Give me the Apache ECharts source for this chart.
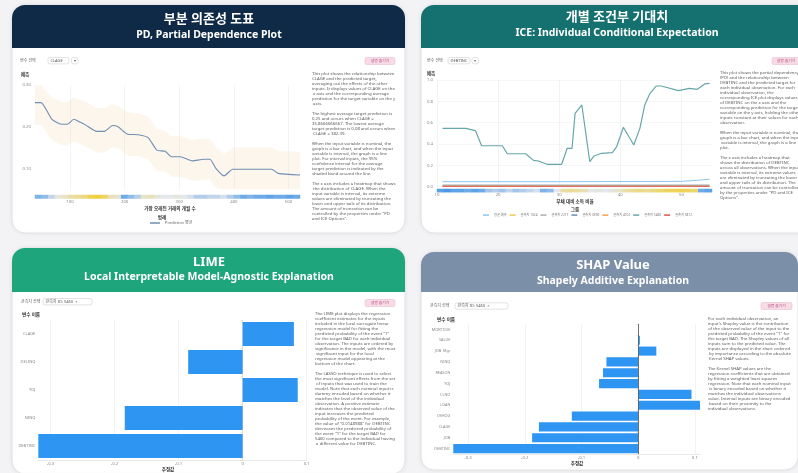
<!DOCTYPE html>
<html>
<head>
<meta charset="utf-8">
<script src="https://cdn.jsdelivr.net/npm/echarts@6.0.0/dist/echarts.min.js"></script>
<style>
html, body { margin: 0; padding: 0; background: #f3f3f5; }
#main { width: 798px; height: 473px; }
</style>
</head>
<body>
<div id="main"></div>
<script>
// ---- PD: 부분 의존성 도표 (CLAGE) ----
const pdX = [36, 47, 67, 86, 95, 107, 117, 129, 149, 163, 178, 188, 206, 225, 243, 259, 274, 286, 302, 324, 345, 356, 367, 382, 398, 419, 469, 481, 521]
const pdMean = [0.258, 0.258, 0.218, 0.206, 0.206, 0.218, 0.212, 0.204, 0.189, 0.189, 0.203, 0.200, 0.182, 0.181, 0.174, 0.144, 0.141, 0.128, 0.128, 0.118, 0.122, 0.122, 0.100, 0.082, 0.098, 0.098, 0.098, 0.088, 0.084]
const pdUpper = [0.300, 0.300, 0.270, 0.260, 0.260, 0.270, 0.265, 0.260, 0.245, 0.245, 0.255, 0.250, 0.235, 0.232, 0.225, 0.195, 0.190, 0.178, 0.178, 0.168, 0.172, 0.172, 0.152, 0.135, 0.150, 0.150, 0.150, 0.142, 0.140]
const pdLower = [0.205, 0.205, 0.168, 0.155, 0.155, 0.165, 0.160, 0.152, 0.138, 0.138, 0.150, 0.148, 0.130, 0.130, 0.122, 0.094, 0.092, 0.080, 0.080, 0.070, 0.073, 0.073, 0.052, 0.050, 0.050, 0.050, 0.050, 0.050, 0.050]
const pdTicks = [100, 200, 300, 400, 500]
const pdRug = [0.8, 0.75, 0.6, 0.45, 0.4, 0.3, 0.25, 0.2, 0.05, 0.0, 0.1, 0.35, 0.4, 0.85, 0.75, 0.65, 0.4, 0.35, 0.45, 0.5, 0.5, 0.45, 0.5, 0.55, 0.65, 0.65, 0.6, 0.6, 0.55, 0.65, 0.75, 0.85, 0.8, 0.85, 0.85, 0.9, 0.85, 0.85, 0.9, 0.85]

// ---- ICE: 개별 조건부 기대치 (DEBTINC) ----
const iceX = [10.9, 14.7, 16.3, 17.3, 20.7, 21.5, 24.5, 25.8, 26.6, 28.0, 30.4, 31.3, 32.1, 32.6, 33.7, 35.0, 35.7, 36.9, 38.7, 39.4, 40.5, 42.2, 43.2, 44.0, 44.8, 45.9, 46.7, 49.5, 51.3, 52.6, 53.8, 54.6]
const iceTeal = [0.547, 0.547, 0.525, 0.384, 0.384, 0.309, 0.309, 0.247, 0.241, 0.210, 0.210, 0.360, 0.360, 0.688, 0.766, 0.234, 0.288, 0.313, 0.319, 0.375, 0.557, 0.391, 0.547, 0.766, 0.869, 0.944, 0.944, 0.900, 0.922, 0.913, 0.963, 0.969]
const iceMeanX = [10.9, 30.0, 50.0, 52.6, 54.6]
const iceMean = [0.047, 0.047, 0.050, 0.060, 0.070]
const iceFlatX = [10.9, 54.6]
const iceYellow = [0.012, 0.012]
const iceGray = [0.009, 0.009]
const iceSlate = [0.015, 0.015]
const iceOrange = [0.006, 0.006]
const iceRed = [0.003, 0.003]
const iceNames = ['평균 예측', '관측치 1024', '관측치 2217', '관측치 3390', '관측치 4102', '관측치 5460', '관측치 5812']
const iceTicks = [10, 20, 30, 40, 50]
const iceRug = [0.9, 0.95, 0.9, 0.9, 0.85, 0.9, 0.85, 0.7, 0.65, 0.7, 0.6, 0.7, 0.65, 0.6, 0.55, 0.8, 0.75, 0.5, 0.3, 0.25, 0.3, 0.35, 0.5, 0.45, 0.5, 0.45, 0.4, 0.3, 0.25, 0.2, 0.25, 0.2, 0.15, 0.1, 0.1, 0.05, 0.1, 0.15, 0.85, 0.9]

// ---- LIME ----
const limeVars = ['CLAGE', 'DELINQ', 'YOJ', 'NINQ', 'DEBTINC']
const limeValues = [0.080, -0.085, 0.086, -0.184, -0.319]
const limeTicks = [-0.3, -0.2, -0.1, 0, 0.1]

// ---- SHAP ----
const shapVars = ['MORTDUE', 'VALUE', 'JOB_Mgr', 'NINQ', 'REASON', 'YOJ', 'CLNO', 'LOAN', 'DEROG', 'CLAGE', 'JOB', 'DEBTINC']
const shapValues = [0, 0.003, 0.032, -0.056, -0.062, -0.069, 0.094, 0.109, -0.117, -0.175, -0.187, -0.326]
const shapTicks = [-0.3, -0.2, -0.1, 0, 0.1]

const FONT = "'Noto Sans', 'Noto Sans CJK KR', sans-serif"
const BAR_BLUE = '#2f95f2'

// 설명 문단
const pdText = [
  'This plot shows the relationship between CLAGE and the predicted target, averaging out the effects of the other inputs. It displays values of CLAGE on the x axis and the corresponding average prediction for the target variable on the y axis.',
  'The highest average target prediction is 0.25 and occurs when CLAGE = 35.8666666667. The lowest average target prediction is 0.08 and occurs when CLAGE = 382.39.',
  'When the input variable is nominal, the graph is a bar chart, and when the input variable is interval, the graph is a line plot. For interval inputs, the 95% confidence interval for the average target prediction is indicated by the shaded band around the line.',
  'The x axis includes a heatmap that shows the distribution of CLAGE. When the input variable is interval, its extreme values are eliminated by truncating the lower and upper tails of its distribution. The amount of truncation can be controlled by the properties under "PD and ICE Options".'
]
const iceText = [
  'This plot shows the partial dependency (PD) and the relationship between DEBTINC and the predicted target for each individual observation. For each individual observation, the corresponding ICE plot displays values of DEBTINC on the x axis and the corresponding prediction for the target variable on the y axis, holding the other inputs constant at their values for each observation.',
  'When the input variable is nominal, the graph is a bar chart, and when the input variable is interval, the graph is a line plot.',
  'The x axis includes a heatmap that shows the distribution of DEBTINC across all observations. When the input variable is interval, its extreme values are eliminated by truncating the lower and upper tails of its distribution. The amount of truncation can be controlled by the properties under "PD and ICE Options".'
]
const limeText = [
  'The LIME plot displays the regression coefficient estimates for the inputs included in the local surrogate linear regression model for fitting the predicted probability of the event "1" for the target BAD for each individual observation. The inputs are ordered by significance in the model, with the most significant input for the local regression model appearing at the bottom of the chart.',
  'The LASSO technique is used to select the most significant effects from the set of inputs that was used to train the model. Note that each nominal input is dummy encoded based on whether it matches the level of the individual observation. A positive estimate indicates that the observed value of the input increases the predicted probability of the event. For example, the value of "0.0148988" for DEBTINC decreases the predicted probability of the event "1" for the target BAD for 5460 compared to the individual having a different value for DEBTINC.'
]
const shapText = [
  'For each individual observation, an input\'s Shapley value is the contribution of the observed value of the input to the predicted probability of the event "1" for the target BAD. The Shapley values of all inputs sum to the predicted value. The inputs are displayed in the chart ordered by importance according to the absolute Kernel SHAP values.',
  'The Kernel SHAP values are the regression coefficients that are obtained by fitting a weighted least squares regression. Note that each nominal input is binary encoded based on whether it matches the individual observations value. Interval inputs are binary encoded based on their proximity to the individual observations.'
]

// 카드 (흰 배경 + 색 헤더 + 두 줄 제목)
function card (x, y, w, h, headH, color, cx, t1, t2, t1y, t2y) {
  return [
    { type: 'rect', z: -10, shape: { x: x, y: y, width: w, height: h, r: 13 },
      style: { fill: '#fff', stroke: '#e2e2e6', lineWidth: 1, shadowBlur: 5, shadowColor: 'rgba(0,0,0,0.06)' } },
    { type: 'rect', z: -9, shape: { x: x, y: y, width: w, height: headH, r: [13, 13, 0, 0] }, style: { fill: color } },
    { type: 'text', z: 5, x: cx, y: t1y, style: { text: t1, fill: '#fff', fontSize: 13, fontWeight: 'bold', fontFamily: FONT, align: 'center', verticalAlign: 'middle' } },
    { type: 'text', z: 5, x: cx, y: t2y, style: { text: t2, fill: '#fff', fontSize: 10.5, fontWeight: 'bold', fontFamily: FONT, align: 'center', verticalAlign: 'middle' } }
  ]
}

// 선택 상자
function dropdown (x, y, label, boxX, boxW, value, btnX) {
  const els = [
    { type: 'text', x: x, y: y, style: { text: label, fill: '#666', fontSize: 4, fontFamily: FONT, verticalAlign: 'middle' } },
    { type: 'rect', shape: { x: boxX, y: y - 3.2, width: boxW, height: 6.4, r: 2 }, style: { fill: '#fff', stroke: '#cfcfd4', lineWidth: 0.6 } },
    { type: 'text', x: boxX + 2.5, y: y, style: { text: value, fill: '#555', fontSize: 4, fontFamily: FONT, verticalAlign: 'middle' } }
  ]
  if (btnX) {
    els.push({ type: 'rect', shape: { x: btnX, y: y - 3.2, width: 6.5, height: 6.4, r: 2 }, style: { fill: '#fff', stroke: '#cfcfd4', lineWidth: 0.6 } })
    els.push({ type: 'text', x: btnX + 3.25, y: y, style: { text: '▾', fill: '#666', fontSize: 4, fontFamily: FONT, align: 'center', verticalAlign: 'middle' } })
  }
  return els
}

function badge (x, y, w) {
  return [
    { type: 'rect', shape: { x: x, y: y, width: w, height: 7, r: 1.5 }, style: { fill: '#f7dbe6', stroke: '#e8b5ca', lineWidth: 0.5 } },
    { type: 'text', x: x + w / 2, y: y + 3.5, style: { text: '설명 숨기기', fill: '#b24a74', fontSize: 3.8, fontFamily: FONT, align: 'center', verticalAlign: 'middle' } }
  ]
}

// 문단들은 한 덩어리로 (빈 줄로 구분)
function paragraphs (x, top, width, texts) {
  return {
    type: 'text', x: x, y: top,
    style: { text: texts.join('\n\n'), width: width, overflow: 'break', fill: '#5a5a5a', fontSize: 4.3, lineHeight: 5.0, fontFamily: FONT, verticalAlign: 'top' }
  }
}

function label (x, y, text, align, bold) {
  return { type: 'text', x: x, y: y, style: { text: text, fill: '#333', fontSize: 4.6, fontWeight: bold ? 'bold' : 'normal', fontFamily: FONT, align: align || 'center', verticalAlign: 'middle' } }
}

const graphics = [].concat(
  card(12, 5, 393, 228, 43, '#0e2a47', 209, '부분 의존성 도표', 'PD, Partial Dependence Plot', 19.5, 35),
  card(421, 5, 393, 228, 43, '#15716f', 617, '개별 조건부 기대치', 'ICE: Individual Conditional Expectation', 17.5, 33.5),
  card(12, 248, 393, 226, 44, '#1fa57c', 209, 'LIME', 'Local Interpretable Model-Agnostic Explanation', 262, 277.5),
  card(421, 252, 377, 218, 40, '#7b8fa8', 613, 'SHAP Value', 'Shapely Additive Explanation', 265, 281),
  dropdown(20, 60.7, '변수 선택', 48, 21, 'CLAGE', 71.5),
  dropdown(427, 60.7, '변수 선택', 448, 22, 'DEBTINC', 472),
  dropdown(21, 301.7, '관측치 선택', 43, 49, '관측치 ID: 5460  ×'),
  dropdown(430, 306, '관측치 선택', 455, 53, '관측치 ID: 5460  ×'),
  badge(365, 57.5, 30),
  badge(772, 57.5, 28),
  badge(365, 299.5, 30),
  badge(761, 302.5, 31),
  [
    paragraphs(312, 71.7, 84, pdText),
    paragraphs(720, 70.7, 82, iceText),
    paragraphs(315, 311.7, 81, limeText),
    paragraphs(708, 316, 83, shapText),
    label(25, 75, '예측', 'center', true),
    label(170, 208.3, '가장 오래된 거래의 개월 수', 'center', true),
    label(162, 217.3, '범례', 'center', true),
    label(431, 74, '예측', 'center', true),
    label(575, 201.7, '부채 대비 소득 비율', 'center', true),
    label(575, 209.7, '그룹', 'center', true),
    label(22, 315, '변수 이름', 'left', true),
    label(437, 319.3, '변수 이름', 'left', true),
    label(168, 469.5, '추정값', 'center', true),
    label(577, 464, '추정값', 'center', true)
  ]
)

const tickLabel = { fontSize: 4.3, color: '#8a8a8a', fontFamily: FONT }
const faint = { show: true, lineStyle: { color: '#eef0f3', width: 0.8 } }

const chart = echarts.init(document.getElementById('main'))
chart.setOption({
  backgroundColor: '#f3f3f5',
  animation: false,
  graphic: { elements: graphics },
  legend: [
    { data: ['Prediction 평균'], left: 150, top: 221, padding: 0, itemWidth: 10, itemHeight: 1.5, icon: 'rect', selectedMode: false,
      textStyle: { fontSize: 4, color: '#666', fontFamily: FONT } },
    { data: iceNames, left: 483, top: 213.5, padding: 0, itemWidth: 6, itemHeight: 1.5, itemGap: 3, icon: 'rect', selectedMode: false,
      textStyle: { fontSize: 3.2, color: '#777', fontFamily: FONT } }
  ],
  grid: [
    { left: 35, top: 85.2, width: 265, height: 104, outerBoundsMode: 'none' },
    { left: 35, top: 195, width: 265, height: 3.5, outerBoundsMode: 'none' },
    { left: 437, top: 80, width: 275, height: 106.7, outerBoundsMode: 'none' },
    { left: 437, top: 189, width: 275, height: 3.2, outerBoundsMode: 'none' },
    { left: 38.3, top: 320, width: 268.4, height: 140, outerBoundsMode: 'none' },
    { left: 453.3, top: 324, width: 246.7, height: 130, outerBoundsMode: 'none' }
  ],
  xAxis: [
    { gridIndex: 0, type: 'value', min: 'dataMin', max: 'dataMax', axisLine: { show: false },
      axisTick: { show: false, customValues: pdTicks }, splitLine: faint,
      axisLabel: Object.assign({ customValues: pdTicks, margin: 10 }, tickLabel) },
    { gridIndex: 1, type: 'category', data: pdRug.map((v, i) => i), show: false },
    { gridIndex: 2, type: 'value', min: 10, max: 55, axisLine: { show: false },
      axisTick: { show: false, customValues: iceTicks }, splitLine: faint,
      axisLabel: Object.assign({ customValues: iceTicks, margin: 5.5 }, tickLabel) },
    { gridIndex: 3, type: 'category', data: iceRug.map((v, i) => i), show: false },
    { gridIndex: 4, type: 'value', min: 'dataMin', max: 0.1, axisLine: { show: true, lineStyle: { color: '#dcdcdc', width: 0.6 } },
      axisTick: { show: false, customValues: limeTicks }, splitLine: faint,
      axisLabel: Object.assign({ customValues: limeTicks, margin: 1.5 }, tickLabel) },
    { gridIndex: 5, type: 'value', min: 'dataMin', max: 'dataMax', axisLine: { show: true, lineStyle: { color: '#dcdcdc', width: 0.6 } },
      axisTick: { show: false, customValues: shapTicks }, splitLine: faint,
      axisLabel: Object.assign({ customValues: shapTicks, margin: 1.5 }, tickLabel) }
  ],
  yAxis: [
    { gridIndex: 0, type: 'value', min: 0.05, max: 0.3, interval: 0.05, axisLine: { show: false }, axisTick: { show: false },
      splitLine: { show: false },
      axisLabel: Object.assign({ margin: 4, formatter: v => (Math.round(v * 100) % 10 === 0 ? v.toFixed(2) : '') }, tickLabel) },
    { gridIndex: 1, type: 'category', data: ['rug'], show: false },
    { gridIndex: 2, type: 'value', min: 0, max: 1, interval: 0.2, axisLine: { show: false }, axisTick: { show: false },
      splitLine: { show: true, lineStyle: { color: '#f3f4f6', width: 0.8 } },
      axisLabel: Object.assign({ margin: 4, formatter: v => v.toFixed(1) }, tickLabel) },
    { gridIndex: 3, type: 'category', data: ['rug'], show: false },
    { gridIndex: 4, type: 'category', data: limeVars, inverse: true,
      axisLine: { show: true, lineStyle: { color: '#cfcfcf', width: 0.6 } }, axisTick: { show: true, length: 2, lineStyle: { color: '#cfcfcf', width: 0.5 } },
      splitLine: { show: false }, axisLabel: Object.assign({ margin: 3 }, tickLabel, { fontSize: 4 }) },
    { gridIndex: 5, type: 'category', data: shapVars, inverse: true,
      axisLine: { show: true, lineStyle: { color: '#cfcfcf', width: 0.6 } }, axisTick: { show: true, length: 2, lineStyle: { color: '#cfcfcf', width: 0.5 } },
      splitLine: { show: false }, axisLabel: Object.assign({ margin: 3 }, tickLabel, { fontSize: 3.8 }) }
  ],
  visualMap: [
    { show: false, seriesIndex: 2, min: 0, max: 1, inRange: { color: ['#f0cf3c', '#e4e8ec', '#3b8fe6'] } },
    { show: false, seriesIndex: 9, min: 0, max: 1, inRange: { color: ['#f0cf3c', '#e4e8ec', '#3b8fe6'] } }
  ],
  series: [
    // PD 신뢰 구간: 상한 → 하한(역순) 다각형
    { type: 'custom', xAxisIndex: 0, yAxisIndex: 0, silent: true, z: 1,
      encode: { x: 0, y: [1, 2] },
      data: pdX.map((x, i) => [x, pdLower[i], pdUpper[i]]),
      renderItem: (params, api) => {
        if (params.dataIndex !== 0) return null
        const upper = pdX.map((x, i) => api.coord([x, pdUpper[i]]))
        const lower = pdX.map((x, i) => api.coord([x, pdLower[i]])).reverse()
        return { type: 'polygon', shape: { points: upper.concat(lower) }, style: { fill: 'rgba(250, 226, 196, 0.3)' } }
      } },
    { name: 'Prediction 평균', type: 'line', xAxisIndex: 0, yAxisIndex: 0, symbol: 'none', smooth: 0.2,
      color: '#6f8fb3', lineStyle: { width: 1.1, color: '#6f8fb3' }, data: pdX.map((x, i) => [x, pdMean[i]]) },
    { type: 'heatmap', xAxisIndex: 1, yAxisIndex: 1, data: pdRug.map((v, i) => [i, 0, v]) },
    // ICE
    { name: iceNames[0], type: 'line', xAxisIndex: 2, yAxisIndex: 2, symbol: 'none', color: '#8fc6ec',
      lineStyle: { width: 1, color: '#8fc6ec' }, data: iceMeanX.map((x, i) => [x, iceMean[i]]) },
    { name: iceNames[1], type: 'line', xAxisIndex: 2, yAxisIndex: 2, symbol: 'none', color: '#f2c94c',
      lineStyle: { width: 0.8, color: '#f2c94c' }, data: iceFlatX.map((x, i) => [x, iceYellow[i]]) },
    { name: iceNames[2], type: 'line', xAxisIndex: 2, yAxisIndex: 2, symbol: 'none', color: '#a7afba',
      lineStyle: { width: 0.8, color: '#a7afba' }, data: iceFlatX.map((x, i) => [x, iceGray[i]]) },
    { name: iceNames[3], type: 'line', xAxisIndex: 2, yAxisIndex: 2, symbol: 'none', color: '#6d8fb5',
      lineStyle: { width: 0.8, color: '#6d8fb5' }, data: iceFlatX.map((x, i) => [x, iceSlate[i]]) },
    { name: iceNames[4], type: 'line', xAxisIndex: 2, yAxisIndex: 2, symbol: 'none', color: '#f0a24a',
      lineStyle: { width: 0.8, color: '#f0a24a' }, data: iceFlatX.map((x, i) => [x, iceOrange[i]]) },
    { name: iceNames[5], type: 'line', xAxisIndex: 2, yAxisIndex: 2, symbol: 'none', color: '#67a6aa',
      lineStyle: { width: 1.2, color: '#67a6aa' }, data: iceX.map((x, i) => [x, iceTeal[i]]) },
    { type: 'heatmap', xAxisIndex: 3, yAxisIndex: 3, data: iceRug.map((v, i) => [i, 0, v]) },
    // LIME
    { type: 'bar', xAxisIndex: 4, yAxisIndex: 4, barCategoryGap: '14%', itemStyle: { color: BAR_BLUE }, data: limeValues },
    // SHAP
    { type: 'bar', xAxisIndex: 5, yAxisIndex: 5, barCategoryGap: '16%', itemStyle: { color: BAR_BLUE }, data: shapValues,
      markLine: { silent: true, symbol: 'none', label: { show: false }, lineStyle: { color: '#555', width: 0.8, type: 'solid' }, data: [{ xAxis: 0 }] } },
    // 빨간 관측치 선은 맨 위에
    { name: iceNames[6], type: 'line', xAxisIndex: 2, yAxisIndex: 2, symbol: 'none', color: '#e2534f',
      lineStyle: { width: 0.9, color: '#e2534f' }, data: iceFlatX.map((x, i) => [x, iceRed[i]]) }
  ]
})
</script>
</body>
</html>
